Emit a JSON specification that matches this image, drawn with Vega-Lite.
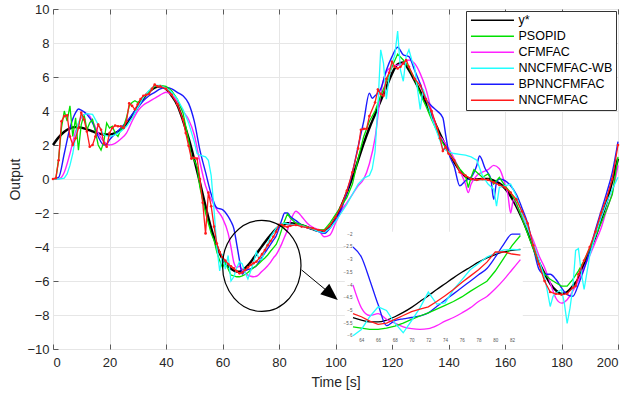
{
"$schema": "https://vega.github.io/schema/vega-lite/v6.json",
"width": 565, "height": 340,
"autosize": {"type": "none"},
"padding": {"left": 53, "top": 9, "right": 12, "bottom": 45},
"config": {
  "font": "Liberation Sans",
  "view": {"stroke": "#5a5a5a", "strokeWidth": 1},
  "axis": {"labelFont": "Liberation Sans", "titleFont": "Liberation Sans", "labelOverlap": false}
},
"datasets": {
  "names": [{"k":"Y","name":"y*"},{"k":"P","name":"PSOPID"},{"k":"C","name":"CFMFAC"},{"k":"W","name":"NNCFMFAC-WB"},{"k":"B","name":"BPNNCFMFAC"},{"k":"N","name":"NNCFMFAC"}],
  "main": [
{"t":0,"Y":2.0,"P":0,"C":0,"W":0,"B":0,"N":0},
{"t":1,"P":0.0,"N":0.05},
{"t":2,"Y":2.45,"P":1.2,"C":0,"W":0,"B":0.1,"N":1.1},
{"t":3,"P":3.0,"N":3.4},
{"t":4,"Y":2.78,"P":4.0,"C":0.4,"W":0.05,"B":1.5,"N":3.7},
{"t":5,"P":3.4,"W":0.3,"N":3.75},
{"t":6,"Y":2.98,"P":4.3,"C":1.5,"W":0.8,"B":3.0,"N":2.5},
{"t":7,"P":2.5,"W":1.5,"N":2.0},
{"t":8,"Y":3.05,"P":3.6,"C":2.8,"W":2.5,"B":3.9,"N":2.4},
{"t":9,"P":1.7,"W":3.3,"B":4.12,"N":3.0},
{"t":10,"Y":3.02,"P":3.2,"C":3.6,"W":3.7,"B":4.05,"N":3.9},
{"t":11,"P":3.8,"N":3.5},
{"t":12,"Y":2.92,"P":2.9,"C":3.85,"W":3.85,"B":3.8,"N":2.8},
{"t":13,"P":3.3,"N":1.9},
{"t":14,"Y":2.8,"P":3.5,"C":3.4,"W":3.8,"B":3.3,"N":2.0},
{"t":15,"P":2.8,"N":2.5},
{"t":16,"Y":2.68,"P":2.0,"C":2.7,"W":3.2,"B":2.5,"N":3.2},
{"t":17,"P":1.7,"N":2.9},
{"t":18,"Y":2.62,"P":2.2,"C":2.2,"W":2.6,"B":2.0,"N":2.1},
{"t":19,"P":3.3,"B":2.05,"N":1.9},
{"t":20,"Y":2.62,"P":3.0,"C":2.0,"W":2.5,"B":2.3,"N":2.7},
{"t":21,"P":3.1,"N":3.0},
{"t":22,"Y":2.7,"P":2.7,"C":2.1,"W":2.6,"B":2.65,"N":3.15},
{"t":23,"P":2.5,"N":3.1},
{"t":24,"Y":2.88,"P":2.9,"C":2.35,"W":2.8,"B":3.0,"N":3.1},
{"t":25,"P":3.1,"N":3.0},
{"t":26,"Y":3.2,"P":3.6,"C":2.7,"W":3.1,"B":3.35,"N":3.4},
{"t":27,"P":4.3,"N":4.45},
{"t":28,"Y":3.7,"P":4.5,"C":3.4,"W":3.6,"B":3.8,"N":4.3},
{"t":29,"P":4.6,"N":4.1},
{"t":30,"Y":4.25,"P":4.5,"C":4.0,"W":4.2,"B":4.2,"N":4.4},
{"t":31,"N":4.7},
{"t":32,"Y":4.75,"P":4.8,"C":4.35,"W":4.8,"B":4.6,"N":4.9},
{"t":33,"N":4.95},
{"t":34,"Y":5.12,"P":5.1,"C":4.55,"W":5.2,"B":4.9,"N":5.0},
{"t":35,"N":5.3},
{"t":36,"Y":5.38,"P":5.45,"C":4.75,"W":5.5,"B":5.1,"N":5.55},
{"t":37,"N":5.45},
{"t":38,"Y":5.45,"P":5.5,"C":4.95,"W":5.5,"B":5.3,"N":5.45},
{"t":40,"Y":5.3,"P":5.45,"C":5.1,"W":5.35,"B":5.38,"N":5.3},
{"t":42,"Y":4.9,"P":5.2,"C":4.95,"W":5.1,"B":5.3,"N":4.95},
{"t":44,"Y":4.35,"P":4.7,"C":4.55,"W":4.7,"B":5.1,"N":4.4},
{"t":46,"Y":3.45,"P":3.9,"C":4.0,"W":4.1,"B":4.9,"N":3.5},
{"t":47,"N":2.7},
{"t":48,"Y":2.4,"P":2.3,"C":3.5,"W":3.3,"B":4.45,"N":1.95},
{"t":49,"P":1.3,"N":1.2},
{"t":50,"Y":1.15,"P":1.1,"C":2.6,"W":2.2,"B":3.4,"N":1.25},
{"t":51,"P":0.7,"W":1.5,"N":1.2},
{"t":52,"Y":-0.2,"P":-0.5,"C":1.0,"W":1.4,"B":1.7,"N":0.0},
{"t":53,"N":-1.4},
{"t":54,"Y":-1.6,"P":-2.0,"C":-0.4,"W":1.3,"B":0.4,"N":-3.2},
{"t":55,"W":1.1,"N":-0.8},
{"t":56,"Y":-2.9,"P":-3.2,"C":-1.2,"W":0.2,"B":-0.9,"N":-1.6},
{"t":57,"P":-3.6,"W":-1.8,"N":-2.8},
{"t":58,"Y":-3.95,"P":-4.3,"C":-1.8,"W":-4.0,"B":-1.7,"N":-3.8},
{"t":59,"P":-4.8,"W":-5.4,"N":-4.3},
{"t":60,"Y":-4.7,"P":-5.2,"C":-2.3,"W":-4.4,"B":-1.8,"N":-4.6},
{"t":61,"Y":-4.95,"P":-4.9,"W":-5.3,"N":-4.8},
{"t":62,"Y":-5.12,"P":-5.3,"C":-3.2,"W":-4.5,"B":-2.2,"N":-5.0},
{"t":63,"Y":-5.28,"P":-5.65,"C":-4.0,"W":-6.0,"B":-2.5,"N":-5.13},
{"t":64,"Y":-5.38,"P":-5.7,"C":-4.9,"W":-5.75,"B":-2.9,"N":-5.25},
{"t":65,"Y":-5.45,"P":-5.75,"C":-5.2,"W":-5.25,"B":-3.8,"N":-5.42},
{"t":66,"Y":-5.45,"P":-5.75,"C":-5.13,"W":-4.86,"B":-4.77,"N":-5.55},
{"t":67,"Y":-5.38,"P":-5.7,"C":-5.35,"W":-5.0,"B":-5.6,"N":-5.5},
{"t":68,"Y":-5.25,"P":-5.62,"C":-5.5,"W":-5.5,"B":-5.4,"N":-5.35},
{"t":69,"Y":-5.08,"P":-5.5,"C":-5.65,"W":-5.88,"B":-5.33,"N":-5.2},
{"t":70,"Y":-4.88,"P":-5.35,"C":-5.72,"W":-5.4,"B":-5.28,"N":-5.05},
{"t":71,"Y":-4.65,"P":-5.22,"C":-5.75,"W":-4.9,"B":-5.22,"N":-4.95},
{"t":72,"Y":-4.42,"P":-5.1,"C":-5.72,"W":-4.28,"B":-5.1,"N":-4.86},
{"t":73,"Y":-4.18,"P":-4.95,"C":-5.6,"W":-4.75,"B":-4.85,"N":-4.65},
{"t":74,"Y":-3.95,"P":-4.8,"C":-5.42,"W":-4.7,"B":-4.6,"N":-4.42},
{"t":75,"Y":-3.72,"P":-4.65,"C":-5.28,"W":-4.18,"B":-4.35,"N":-4.18},
{"t":76,"Y":-3.5,"P":-4.47,"C":-5.1,"W":-3.8,"B":-4.1,"N":-3.9},
{"t":77,"Y":-3.3,"P":-4.25,"C":-4.9,"W":-3.4,"B":-3.85,"N":-3.65},
{"t":78,"Y":-3.1,"P":-4.05,"C":-4.65,"W":-3.15,"B":-3.6,"N":-3.4},
{"t":79,"Y":-2.93,"P":-3.85,"C":-4.45,"W":-2.9,"B":-3.35,"N":-3.1},
{"t":80,"Y":-2.8,"P":-3.45,"C":-4.15,"W":-2.75,"B":-2.9,"N":-2.7},
{"t":81,"Y":-2.7,"P":-2.95,"C":-3.8,"W":-2.62,"B":-2.4,"N":-2.7},
{"t":82,"Y":-2.64,"P":-2.45,"C":-3.4,"W":-2.6,"B":-2.0,"N":-2.78},
{"t":83,"Y":-2.6,"P":-2.05,"C":-3.0,"W":-2.62,"B":-2.0,"N":-2.82},
{"t":84,"Y":-2.6,"P":-2.3,"C":-2.5,"W":-2.65,"B":-2.2,"N":-2.75},
{"t":86,"Y":-2.63,"P":-2.6,"C":-1.9,"W":-2.7,"B":-2.45,"N":-2.7},
{"t":88,"Y":-2.72,"P":-2.7,"C":-2.2,"W":-2.75,"B":-2.7,"N":-2.8},
{"t":90,"Y":-2.83,"P":-2.8,"C":-2.6,"W":-2.85,"B":-2.85,"N":-2.85},
{"t":92,"Y":-2.95,"P":-2.95,"C":-2.85,"W":-2.95,"B":-2.95,"N":-2.9},
{"t":94,"Y":-3.05,"P":-3.0,"C":-3.0,"W":-3.1,"B":-3.1,"N":-3.0},
{"t":96,"Y":-3.05,"P":-3.0,"C":-3.4,"W":-3.15,"B":-3.2,"N":-3.05},
{"t":98,"Y":-2.8,"P":-2.6,"C":-3.3,"W":-2.9,"B":-2.9,"N":-2.75},
{"t":100,"Y":-2.3,"P":-2.1,"C":-2.6,"W":-2.5,"B":-2.4,"N":-2.25},
{"t":102,"Y":-1.6,"P":-1.6,"C":-1.9,"W":-2.0,"B":-1.8,"N":-1.6},
{"t":104,"Y":-0.8,"P":-1.1,"C":-1.4,"W":-1.5,"B":-0.8,"N":-0.7},
{"t":106,"Y":0.1,"P":-0.3,"C":-0.9,"W":-0.9,"B":0.4,"N":0.4},
{"t":108,"Y":1.1,"P":1.2,"C":-0.4,"W":-0.3,"B":1.9,"N":1.8},
{"t":109,"N":2.9},
{"t":110,"Y":2.1,"P":2.5,"C":0.0,"W":0.05,"B":3.4,"N":2.95},
{"t":111,"N":2.95},
{"t":112,"Y":3.0,"P":3.4,"C":0.9,"W":0.2,"B":5.05,"N":3.7},
{"t":113,"W":0.6,"B":4.75},
{"t":114,"Y":3.8,"P":4.0,"C":2.4,"W":1.6,"B":4.9,"N":4.5},
{"t":115,"W":4.3,"N":5.26},
{"t":116,"Y":4.6,"P":4.9,"C":5.0,"W":7.6,"B":5.3,"N":5.0},
{"t":117,"W":6.8,"N":4.9},
{"t":118,"Y":5.4,"P":5.7,"C":6.3,"W":4.7,"B":6.4,"N":5.9},
{"t":119,"W":6.0,"N":6.25},
{"t":120,"Y":6.2,"P":6.6,"C":6.6,"W":6.8,"B":7.2,"N":6.9},
{"t":121,"W":7.3,"N":6.6},
{"t":122,"Y":6.75,"P":7.35,"C":6.7,"W":8.7,"B":7.75,"N":6.5},
{"t":123,"W":6.4,"N":6.6},
{"t":124,"Y":6.85,"P":7.0,"C":6.8,"W":5.75,"B":7.3,"N":6.8},
{"t":125,"W":7.2,"N":7.0},
{"t":126,"Y":6.4,"P":6.55,"C":7.0,"W":7.6,"B":7.2,"N":6.6},
{"t":127,"W":7.0},
{"t":128,"Y":5.8,"P":5.9,"C":6.8,"W":6.6,"B":6.4,"N":5.9},
{"t":129,"W":5.3},
{"t":130,"Y":5.15,"P":5.0,"C":6.2,"W":4.1,"B":5.6,"N":5.5},
{"t":131,"W":5.3},
{"t":132,"Y":4.5,"P":4.3,"C":5.3,"W":4.8,"B":4.7,"N":4.7},
{"t":134,"Y":3.75,"P":3.5,"C":4.0,"W":3.6,"B":4.3,"N":4.0},
{"t":136,"Y":3.0,"P":2.8,"C":2.8,"W":2.7,"B":4.0,"N":3.0},
{"t":137,"N":2.4},
{"t":138,"Y":2.3,"P":2.1,"C":2.3,"W":1.8,"B":3.6,"N":1.65},
{"t":139,"B":2.6,"N":1.9},
{"t":140,"Y":1.6,"P":1.6,"C":1.8,"W":1.6,"B":1.6,"N":1.5},
{"t":142,"Y":1.0,"P":1.1,"C":1.2,"W":1.5,"B":0.75,"N":1.1},
{"t":144,"Y":0.5,"P":0.6,"C":0.5,"W":1.45,"B":-0.4,"N":0.4},
{"t":146,"Y":0.15,"P":0.2,"C":-0.3,"W":1.4,"B":-0.1,"N":0.2},
{"t":147,"P":-0.5,"C":-0.8},
{"t":148,"Y":0.0,"P":0.1,"C":-0.3,"W":1.3,"B":0.1,"N":0.0},
{"t":149,"P":0.55},
{"t":150,"Y":-0.02,"P":0.4,"C":0.2,"W":1.1,"B":0.8,"N":-0.05},
{"t":151,"B":1.35},
{"t":152,"Y":0.0,"P":0.1,"C":0.4,"W":0.2,"N":0.0},
{"t":153,"B":0.6},
{"t":154,"Y":0.0,"P":0.3,"C":0.55,"W":-0.3,"N":-0.05},
{"t":155,"B":0.0},
{"t":156,"Y":-0.1,"P":-0.3,"C":0.8,"W":-0.6,"B":-1.2,"N":-0.2},
{"t":157,"W":-1.6,"B":-0.2},
{"t":158,"Y":-0.25,"P":0.1,"C":0.6,"W":-0.5,"B":0.0,"N":-0.35},
{"t":160,"Y":-0.55,"P":-0.4,"C":-0.3,"W":-0.4,"B":-0.1,"N":-0.5},
{"t":161,"C":-0.9},
{"t":162,"Y":-1.0,"P":-0.8,"C":-2.0,"W":-0.3,"B":-0.4,"N":-0.8},
{"t":163,"C":-1.2},
{"t":164,"Y":-1.6,"P":-1.4,"C":-1.5,"W":-1.0,"B":-0.9,"N":-1.2},
{"t":166,"Y":-2.3,"P":-2.3,"C":-2.2,"W":-2.0,"B":-1.7,"N":-1.9},
{"t":168,"Y":-3.1,"P":-3.2,"C":-2.9,"W":-2.9,"B":-2.6,"N":-2.6},
{"t":170,"Y":-4.0,"P":-4.1,"C":-3.6,"W":-3.8,"B":-4.0,"N":-3.9},
{"t":172,"Y":-4.9,"P":-5.0,"C":-4.5,"W":-4.75,"B":-5.3,"N":-5.0},
{"t":174,"Y":-5.55,"P":-5.6,"C":-5.2,"W":-5.8,"B":-5.6,"N":-6.0},
{"t":175,"W":-6.6},
{"t":176,"Y":-6.15,"P":-5.9,"C":-6.1,"W":-7.5,"B":-5.6,"N":-6.65},
{"t":177,"W":-6.9},
{"t":178,"Y":-6.55,"P":-6.1,"C":-7.0,"W":-6.7,"B":-5.9,"N":-6.75},
{"t":179,"W":-6.6},
{"t":180,"Y":-6.75,"P":-6.3,"C":-7.3,"W":-6.5,"B":-6.4,"N":-6.8},
{"t":181,"W":-7.3},
{"t":182,"Y":-6.65,"P":-6.3,"C":-7.1,"W":-8.5,"B":-6.8,"N":-6.75},
{"t":183,"W":-7.6},
{"t":184,"Y":-6.3,"P":-5.9,"C":-6.6,"W":-6.4,"B":-6.9,"N":-6.4},
{"t":185,"W":-4.2,"N":-6.3},
{"t":186,"Y":-5.85,"P":-5.4,"C":-5.95,"W":-4.1,"B":-6.2,"N":-5.6},
{"t":187,"W":-5.5},
{"t":188,"Y":-5.0,"P":-4.8,"C":-5.2,"W":-6.5,"B":-5.3,"N":-4.8},
{"t":189,"W":-5.5},
{"t":190,"Y":-4.2,"P":-4.1,"C":-4.5,"W":-4.5,"B":-4.2,"N":-4.0},
{"t":192,"Y":-3.4,"P":-3.4,"C":-3.7,"W":-3.3,"B":-3.0,"N":-3.1},
{"t":194,"Y":-2.4,"P":-2.6,"C":-2.9,"W":-2.3,"B":-1.9,"N":-2.0},
{"t":196,"Y":-1.35,"P":-1.8,"C":-1.8,"W":-1.4,"B":-0.8,"N":-1.1},
{"t":198,"Y":-0.1,"P":-0.9,"C":-0.8,"W":-0.6,"B":0.4,"N":0.0},
{"t":200,"Y":1.2,"P":1.3,"C":0.8,"W":0.1,"B":2.2,"N":2.0}
  ]
},
"resolve": {"scale": {"x": "independent", "y": "independent"}, "axis": {"x": "independent", "y": "independent"}},
"layer": [
  {
    "data": {"name": "main"},
    "transform": [
      {"fold": ["Y","P","C","W","B","N"], "as": ["k","v"]},
      {"filter": "isValid(datum.v)"},
      {"lookup": "k", "from": {"data": {"name": "names"}, "key": "k", "fields": ["name"]}}
    ],
    "layer": [
      {
        "transform": [{"filter": {"field": "k", "oneOf": ["Y","C","B"]}}],
        "mark": {"type": "line", "interpolate": "monotone"},
        "encoding": {
          "x": {"field": "t", "type": "quantitative", "scale": {"domain": [0,200], "nice": false},
                "axis": {"values": [0,20,40,60,80,100,120,140,160,180,200], "title": "Time [s]", "grid": true, "gridColor": "#e6e6e6", "domain": false, "tickSize": -5, "tickColor": "#5a5a5a", "labelFontSize": 13, "labelColor": "#262626", "labelPadding": 12, "labelOverlap": false, "titleFontSize": 14, "titleFontWeight": "normal", "titleColor": "#262626", "titlePadding": 6}},
          "y": {"field": "v", "type": "quantitative", "scale": {"domain": [-10,10], "nice": false},
                "axis": {"tickCount": 10, "title": "Output", "grid": true, "gridColor": "#e6e6e6", "domain": false, "tickSize": 0, "labelFontSize": 13, "labelColor": "#262626", "labelPadding": 4, "labelOverlap": false, "labelBound": false, "titleFontSize": 14, "titleFontWeight": "normal", "titleColor": "#262626", "titlePadding": 4}},
          "color": {"field": "name", "type": "nominal",
                    "scale": {"domain": ["y*","PSOPID","CFMFAC","NNCFMFAC-WB","BPNNCFMFAC","NNCFMFAC"], "range": ["#000000","#00e000","#ff22ff","#22ffff","#1a1aff","#ff1a1a"]},
                    "legend": {"title": null, "orient": "top-right", "offset": 2, "strokeColor": "#333333", "fillColor": "#ffffff", "padding": 3, "symbolType": "M -1,0 L 9,0", "symbolSize": 74, "symbolStrokeWidth": 1.5, "labelFontSize": 12.5, "labelColor": "#000000", "labelOffset": 37, "rowPadding": 3.0, "cornerRadius": 0}},
          "strokeWidth": {"condition": {"test": "datum.k === 'Y'", "value": 2.4}, "value": 1.4}
        }
      },
      {
        "transform": [{"filter": {"field": "k", "oneOf": ["P","W","N"]}}],
        "mark": {"type": "line", "strokeWidth": 1.3},
        "encoding": {
          "x": {"field": "t", "type": "quantitative"},
          "y": {"field": "v", "type": "quantitative"},
          "color": {"field": "name", "type": "nominal"}
        }
      },
      {
        "transform": [{"filter": "datum.k === 'N'"}],
        "mark": {"type": "point", "filled": true, "size": 7, "opacity": 1, "color": "#ff1a1a"},
        "encoding": {
          "x": {"field": "t", "type": "quantitative"},
          "y": {"field": "v", "type": "quantitative"}
        }
      },
      {
        "data": {"values": [{"x1": 103.3, "x2": 166.3, "y1": -9.75, "y2": -3.1}]},
        "mark": {"type": "rect", "fill": "#ffffff"},
        "encoding": {
          "x": {"field": "x1", "type": "quantitative"},
          "x2": {"field": "x2"},
          "y": {"field": "y1", "type": "quantitative"},
          "y2": {"field": "y2"}
        }
      }
    ]
  },
  {
    "data": {"name": "main"},
    "transform": [
      {"fold": ["Y","P","C","W","B","N"], "as": ["k","v"]},
      {"filter": "isValid(datum.v)"},
      {"filter": {"field": "t", "range": [63, 83]}},
      {"lookup": "k", "from": {"data": {"name": "names"}, "key": "k", "fields": ["name"]}}
    ],
    "layer": [
      {
        "transform": [{"filter": {"field": "k", "oneOf": ["Y","C","B"]}}],
        "mark": {"type": "line", "strokeWidth": 1.3, "interpolate": "monotone"},
        "encoding": {
          "x": {"field": "t", "type": "quantitative", "scale": {"domain": [63,83], "nice": false, "range": [300, 467.4]},
                "axis": {"orient": "bottom", "offset": -13.2, "zindex": 2, "values": [64,66,68,70,72,74,76,78,80,82], "title": null, "grid": false, "domain": false, "ticks": false, "labelFontSize": 4.5, "labelColor": "#555555", "labelPadding": 2}},
          "y": {"field": "v", "type": "quantitative", "scale": {"domain": [-6,-2], "nice": false, "range": [326.8, 225.2]},
                "axis": {"orient": "left", "offset": -300, "zindex": 2, "values": [-6,-5.5,-5,-4.5,-4,-3.5,-3,-2.5,-2], "format": "~g", "title": null, "grid": false, "domain": false, "ticks": false, "labelFontSize": 4.5, "labelColor": "#555555", "labelPadding": 1}},
          "color": {"field": "name", "type": "nominal"}
        }
      },
      {
        "transform": [{"filter": {"field": "k", "oneOf": ["P","W","N"]}}],
        "mark": {"type": "line", "strokeWidth": 1.3},
        "encoding": {
          "x": {"field": "t", "type": "quantitative"},
          "y": {"field": "v", "type": "quantitative"},
          "color": {"field": "name", "type": "nominal"}
        }
      }
    ]
  },
  {
    "layer": [
      {
        "data": {"values": [{"x": 73.9, "y": -5.11}]},
        "mark": {"type": "point", "shape": "M -0.862,0 A 0.862,1 0 1,0 0.862,0 A 0.862,1 0 1,0 -0.862,0 Z", "size": 8281, "filled": false, "color": "#000000", "strokeWidth": 1.2, "opacity": 1},
        "encoding": {
          "x": {"field": "x", "type": "quantitative", "scale": {"domain": [0,200], "nice": false},
                "axis": {"orient": "top", "values": [0,20,40,60,80,100,120,140,160,180,200], "labels": false, "grid": false, "domain": false, "tickSize": -5, "tickColor": "#5a5a5a", "title": null}},
          "y": {"field": "y", "type": "quantitative", "scale": {"domain": [-10,10], "nice": false},
                "axis": {"orient": "left", "values": [-10,-8,-6,-4,-2,0,2,4,6,8,10], "labels": false, "grid": false, "domain": false, "tickSize": -5, "tickColor": "#5a5a5a", "title": null}}
        }
      },
      {
        "data": {"values": [{"x": 88.0, "y": -5.35, "xe": 98.5, "ye": -6.79}]},
        "mark": {"type": "rule", "color": "#000000", "strokeWidth": 1},
        "encoding": {
          "x": {"field": "x", "type": "quantitative"},
          "y": {"field": "y", "type": "quantitative"},
          "x2": {"field": "xe"},
          "y2": {"field": "ye"}
        }
      },
      {
        "data": {"values": [{"x": 98.5, "y": -6.79}]},
        "mark": {"type": "point", "shape": "M 1,0 L -1,-0.82 L -1,0.82 Z", "size": 289, "angle": 40, "filled": true, "color": "#000000", "opacity": 1},
        "encoding": {
          "x": {"field": "x", "type": "quantitative"},
          "y": {"field": "y", "type": "quantitative"}
        }
      }
    ]
  }
]
}
